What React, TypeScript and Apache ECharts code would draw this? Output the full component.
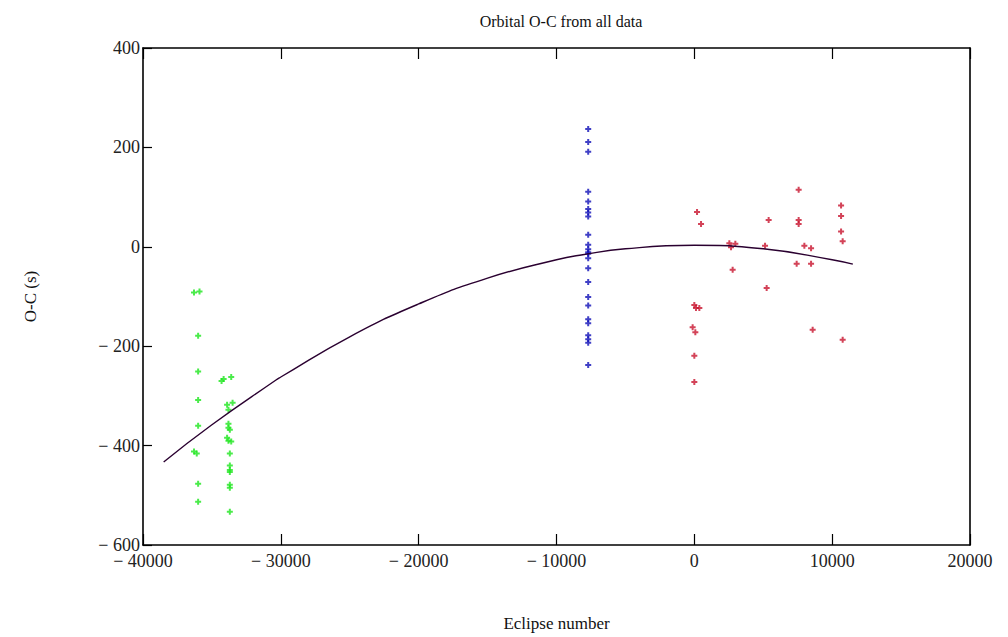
import React, { useEffect, useRef } from "react";
import * as echarts from "echarts";

const titleText = "Orbital O-C from all data";
const xName = "Eclipse number";
const yName = "O-C (s)";

const greenX = [-36300, -35900, -36000, -36000, -34300, -34150, -33600, -36000, -33900, -33500, -33800, -36000, -33800, -33800, -33700, -33900, -33800, -33600, -36300, -36100, -33700, -33700, -33700, -33700, -36000, -33700, -33700, -36000, -33700];
const greenY = [-92, -90, -179, -251, -270, -266, -262, -308, -318, -314, -328, -360, -356, -364, -368, -384, -390, -392, -412, -416, -416, -440, -449, -453, -477, -479, -485, -513, -533];

const blueX = [-7700, -7700, -7700, -7700, -7700, -7700, -7700, -7700, -7700, -7700, -7700, -7700, -7700, -7700, -7700, -7700, -7700, -7700, -7700, -7700, -7700, -7700, -7700, -7700];
const blueY = [237, 211, 191, 111, 91, 76, 69, 61, 24, 4, -5, -11, -14, -23, -43, -71, -101, -118, -146, -154, -178, -186, -193, -238];

const redX = [196, 486, 2540, 2975, 2663, 2780, 5130, 5392, 5247, 7569, 7569, 7569, 7983, 8469, 7424, 8469, 8585, 10646, 10646, 10646, 10762, 10762, 0, 363, 120, -123, 73, 0, 0];
const redY = [70, 46, 7, 6, -1, -46, 2, 54, -83, 115, 54, 46, 2, -3, -34, -34, -167, 83, 62, 31, 11, -187, -117, -123, -123, -162, -172, -219, -272];

const fitX = [-38500, -35000, -30350, -30000, -25000, -20000, -15000, -10000, -8100, -5000, 0, 5000, 10000, 11500];
const fitY = [-433, -358, -268, -262, -181, -115, -63, -26, -16, -4, 3, -4, -26, -35];

const xTicks = { min: -40000, max: 20000, interval: 10000 };
const yTicks = { min: -600, max: 400, interval: 200 };

const plus = "path://M2,0H4V2H6V4H4V6H2V4H0V2H2Z";

const zip = (xs: number[], ys: number[]) => xs.map((x, i) => [x, ys[i]]);
const fmt = (v: number) => (v < 0 ? "\u2212 " + Math.abs(v) : String(v));

export default function App() {
  const ref = useRef<HTMLDivElement>(null);
  useEffect(() => {
    if (!ref.current) return;
    const chart = echarts.init(ref.current, undefined, { renderer: "svg" });
    const font = "'Liberation Serif', 'Times New Roman', serif";
    const axisLine = { show: true, onZero: false, lineStyle: { color: "#000", width: 1.6 } };
    const tick = { show: true, inside: true, length: 11, lineStyle: { color: "#000", width: 1.2 } };
    chart.setOption({
      animation: false,
      backgroundColor: "#fff",
      title: {
        text: titleText,
        left: 556,
        textAlign: "center",
        top: 8,
        textStyle: { fontFamily: font, fontSize: 16, fontWeight: "normal", color: "#111" },
      },
      grid: { left: 143, right: 38, top: 48, bottom: 92 },
      xAxis: [
        {
          type: "value",
          ...xTicks,
          position: "bottom",
          name: xName,
          nameLocation: "middle",
          nameGap: 70,
          nameTextStyle: { fontFamily: font, fontSize: 17, color: "#111" },
          axisLine,
          axisTick: tick,
          splitLine: { show: false },
          axisLabel: { formatter: fmt, fontFamily: font, fontSize: 18, color: "#222", margin: 7 },
        },
        {
          type: "value",
          ...xTicks,
          position: "top",
          axisLine,
          axisTick: tick,
          splitLine: { show: false },
          axisLabel: { show: false },
        },
      ],
      yAxis: [
        {
          type: "value",
          ...yTicks,
          position: "left",
          name: yName,
          nameLocation: "middle",
          nameGap: 104,
          nameTextStyle: { fontFamily: font, fontSize: 17, color: "#111" },
          axisLine,
          axisTick: { ...tick, length: 9 },
          splitLine: { show: false },
          axisLabel: { formatter: fmt, fontFamily: font, fontSize: 18, color: "#222", margin: 3 },
        },
        {
          type: "value",
          ...yTicks,
          position: "right",
          axisLine,
          axisTick: { show: false },
          splitLine: { show: false },
          axisLabel: { show: false },
        },
      ],
      series: [
        {
          type: "line",
          data: zip(fitX, fitY),
          smooth: true,
          showSymbol: false,
          lineStyle: { color: "#2a0030", width: 1.4 },
          z: 3,
        },
        {
          type: "scatter",
          data: zip(greenX, greenY),
          symbol: plus,
          symbolSize: 6,
          itemStyle: { color: "#1ee61e" },
          z: 2,
        },
        {
          type: "scatter",
          data: zip(blueX, blueY),
          symbol: plus,
          symbolSize: 6,
          itemStyle: { color: "#1010b8" },
          z: 2,
        },
        {
          type: "scatter",
          data: zip(redX, redY),
          symbol: plus,
          symbolSize: 6,
          itemStyle: { color: "#c8142e" },
          z: 2,
        },
      ],
    });
    return () => chart.dispose();
  }, []);
  return (
    <div
      ref={ref}
      style={{ position: "fixed", left: 0, top: 0, width: 1008, height: 637, background: "#fff" }}
    />
  );
}
